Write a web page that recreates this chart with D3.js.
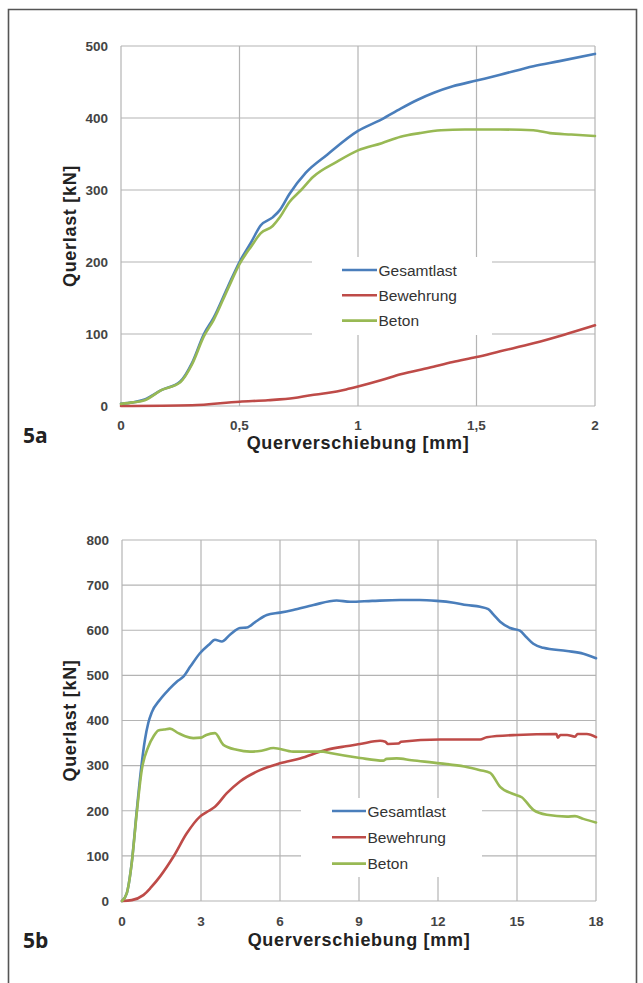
<!DOCTYPE html>
<html>
<head>
<meta charset="utf-8">
<script src="https://cdn.jsdelivr.net/npm/d3@7"></script>
<style>
  html, body { margin: 0; padding: 0; background: #fff; }
  svg { display: block; }
</style>
</head>
<body>
<svg id="chart" width="643" height="983"></svg>
<script>
// ---------- DATA ----------
const seriesNames = ["Gesamtlast", "Bewehrung", "Beton"];
const seriesColors = ["#4a7ebb", "#be4b48", "#98b954"];

// Chart 5a
const aXTicks = [0, 0.5, 1, 1.5, 2];
const aXTickLabels = ["0", "0,5", "1", "1,5", "2"];
const aYTicks = [0, 100, 200, 300, 400, 500];

const aGesamtX = [0, 0.05, 0.1, 0.17, 0.25, 0.3, 0.35, 0.39, 0.45, 0.5, 0.55, 0.59, 0.64, 0.67, 0.71, 0.78, 0.87, 1.0, 1.1, 1.18, 1.25, 1.32, 1.4, 1.5, 1.6, 1.74, 1.85, 2.0];
const aGesamtY = [3, 5, 9, 22, 34, 60, 100, 122, 165, 200, 228, 251, 262, 272, 294, 324, 349, 382, 398, 413, 425, 435, 444, 452, 460, 472, 479, 489];

const aBewehrungX = [0, 0.3, 0.5, 0.62, 0.73, 0.8, 0.87, 0.95, 1.0, 1.1, 1.18, 1.3, 1.4, 1.5, 1.6, 1.74, 1.87, 2.0];
const aBewehrungY = [0, 1, 6, 8, 11, 15, 18, 23, 27, 36, 44, 53, 61, 68, 76, 87, 99, 112];

const aBetonX = [0, 0.05, 0.1, 0.17, 0.25, 0.3, 0.35, 0.39, 0.45, 0.5, 0.55, 0.59, 0.64, 0.67, 0.71, 0.76, 0.81, 0.91, 1.0, 1.1, 1.18, 1.26, 1.35, 1.45, 1.6, 1.74, 1.81, 1.9, 2.0];
const aBetonY = [3, 5, 8, 22, 33, 58, 97, 119, 162, 197, 222, 240, 250, 262, 283, 300, 318, 339, 355, 365, 374, 379, 383, 384, 384, 383, 379, 377, 375];

// Chart 5b
const bXTicks = [0, 3, 6, 9, 12, 15, 18];
const bXTickLabels = ["0", "3", "6", "9", "12", "15", "18"];
const bYTicks = [0, 100, 200, 300, 400, 500, 600, 700, 800];

const bGesamtX = [0, 0.18, 0.37, 0.56, 0.7, 0.87, 1.0, 1.13, 1.44, 1.8, 2.08, 2.33, 2.6, 2.96, 3.3, 3.53, 3.79, 4.1, 4.48, 4.74, 5.1, 5.5, 6.0, 6.5, 7.27, 8.15, 8.66, 9.5, 10.56, 11.3, 11.95, 12.6, 13.09, 13.6, 13.91, 14.1, 14.36, 14.74, 15.11, 15.35, 15.62, 16.0, 16.9, 17.52, 18];
const bGesamtY = [0, 17, 85, 200, 280, 357, 395, 418, 446, 470, 486, 497, 520, 549, 568, 579, 575, 590, 605, 606, 620, 634, 639, 645, 656, 666, 663, 665, 667, 667, 665, 661, 656, 652, 647, 635, 619, 605, 599, 585, 570, 561, 554, 548, 538];

const bBewehrungX = [0, 0.37, 0.81, 1.1, 1.44, 1.95, 2.46, 2.96, 3.3, 3.53, 3.98, 4.48, 5.24, 6.0, 6.76, 7.77, 8.5, 9.04, 9.8, 10.0, 10.1, 10.5, 10.6, 12.08, 13.6, 13.85, 14.99, 16.5, 16.55, 16.65, 16.9, 17.2, 17.3, 17.65, 18];
const bBewehrungY = [0, 2, 13, 30, 54, 98, 150, 187, 200, 209, 239, 265, 290, 305, 316, 335, 343, 348, 355, 353, 348, 349, 353, 358, 358, 363, 368, 370, 362, 368, 368, 364, 370, 370, 363];

const bBetonX = [0, 0.18, 0.37, 0.56, 0.75, 1.0, 1.2, 1.38, 1.6, 1.82, 2.14, 2.4, 2.71, 3.0, 3.2, 3.53, 3.85, 4.36, 4.86, 5.3, 5.75, 6.5, 7.64, 7.9, 9.04, 9.92, 10.05, 10.43, 11.0, 12.08, 13.0, 13.6, 13.98, 14.36, 14.86, 15.18, 15.62, 16.13, 16.9, 17.2, 17.52, 18];
const bBetonY = [0, 17, 84, 195, 290, 342, 365, 378, 380, 382, 372, 365, 361, 362, 368, 372, 346, 335, 331, 333, 339, 331, 331, 328, 317, 311, 315, 316, 312, 305, 298, 290, 284, 253, 237, 230, 202, 191, 187, 188, 182, 174];

const xTitle = "Querverschiebung [mm]";
const yTitle = "Querlast [kN]";

// ---------- DRAW ----------
const svg = d3.select("#chart");
const FONT = "'Liberation Sans', Arial, sans-serif";

// outer frame
svg.append("path")
  .attr("d", "M8.5,990 L8.5,9.5 L636.5,9.5 L636.5,990")
  .attr("fill", "none").attr("stroke", "#555").attr("stroke-width", 1.6);

function drawChart(cfg) {
  const g = svg.append("g");
  const x = d3.scaleLinear().domain(cfg.xDomain).range([cfg.left, cfg.right]);
  const y = d3.scaleLinear().domain(cfg.yDomain).range([cfg.bottom, cfg.top]);

  // gridlines
  g.append("g").selectAll("line.h").data(cfg.yTicks).join("line")
    .attr("x1", cfg.left).attr("x2", cfg.right)
    .attr("y1", d => y(d)).attr("y2", d => y(d))
    .attr("stroke", "#b4b4b4").attr("stroke-width", 1.2);
  g.append("g").selectAll("line.v").data(cfg.xTicks).join("line")
    .attr("y1", cfg.top).attr("y2", cfg.bottom)
    .attr("x1", d => x(d)).attr("x2", d => x(d))
    .attr("stroke", "#b4b4b4").attr("stroke-width", 1.2);

  // y tick labels
  g.append("g").selectAll("text").data(cfg.yTicks).join("text")
    .attr("x", cfg.left - 13).attr("y", d => y(d)).attr("dy", "0.36em")
    .attr("text-anchor", "end")
    .attr("font-family", FONT).attr("font-size", 13.5).attr("font-weight", "bold")
    .attr("fill", "#444").text(d => d);

  // x tick labels
  g.append("g").selectAll("text").data(cfg.xTicks).join("text")
    .attr("x", d => x(d)).attr("y", cfg.xTickY)
    .attr("text-anchor", "middle")
    .attr("font-family", FONT).attr("font-size", 13.5).attr("font-weight", "bold")
    .attr("fill", "#444").text((d, i) => cfg.xTickLabels[i]);

  // axis titles
  g.append("text")
    .attr("x", (cfg.left + cfg.right) / 2).attr("y", cfg.xTitleY)
    .attr("text-anchor", "middle")
    .attr("font-family", FONT).attr("font-size", 18).attr("font-weight", "bold")
    .attr("letter-spacing", "0.7px")
    .attr("fill", "#222").text(xTitle);
  g.append("text")
    .attr("transform", `translate(${cfg.yTitleX},${(cfg.top + cfg.bottom) / 2}) rotate(-90)`)
    .attr("text-anchor", "middle")
    .attr("font-family", FONT).attr("font-size", 18).attr("font-weight", "bold")
    .attr("letter-spacing", "0.7px")
    .attr("fill", "#222").text(yTitle);

  // series lines
  const line = d3.line().x(d => x(d[0])).y(d => y(d[1])).curve(d3.curveMonotoneX);
  cfg.series.forEach((s, i) => {
    const pts = s.xs.map((v, k) => [v, s.ys[k]]);
    g.append("path").datum(pts)
      .attr("d", line)
      .attr("fill", "none")
      .attr("stroke", seriesColors[i])
      .attr("stroke-width", 2.6)
      .attr("stroke-linejoin", "round")
      .attr("stroke-linecap", "round");
  });

  // legend
  const lg = cfg.legend;
  g.append("rect")
    .attr("x", lg.boxX).attr("y", lg.boxY).attr("width", lg.boxW).attr("height", lg.boxH)
    .attr("fill", "#fff");
  seriesNames.forEach((name, i) => {
    const yy = lg.y0 + i * lg.dy;
    g.append("line")
      .attr("x1", lg.lineX1).attr("x2", lg.lineX2).attr("y1", yy).attr("y2", yy)
      .attr("stroke", seriesColors[i]).attr("stroke-width", 2.6);
    g.append("text")
      .attr("x", lg.lineX2 + 1.5).attr("y", yy).attr("dy", "0.36em")
      .attr("font-family", FONT).attr("font-size", 15.5)
      .attr("fill", "#333").text(name);
  });

  // panel label
  svg.append("text")
    .attr("x", 23).attr("y", cfg.panelY)
    .attr("font-family", "'Open Sans', sans-serif").attr("font-size", 21).attr("font-weight", 700)
    .attr("fill", "#222").text(cfg.panel);
}

drawChart({
  xDomain: [0, 2], yDomain: [0, 500],
  left: 121, right: 595, top: 46, bottom: 406,
  xTicks: aXTicks, xTickLabels: aXTickLabels, yTicks: aYTicks,
  xTickY: 429.5, xTitleY: 449, yTitleX: 76,
  series: [
    { xs: aGesamtX, ys: aGesamtY },
    { xs: aBewehrungX, ys: aBewehrungY },
    { xs: aBetonX, ys: aBetonY }
  ],
  legend: { boxX: 312, boxY: 257, boxW: 180, boxH: 78, lineX1: 342, lineX2: 377, y0: 270, dy: 25.3 },
  panel: "5a", panelY: 443
});

drawChart({
  xDomain: [0, 18], yDomain: [0, 800],
  left: 122, right: 596, top: 540, bottom: 901,
  xTicks: bXTicks, xTickLabels: bXTickLabels, yTicks: bYTicks,
  xTickY: 925.5, xTitleY: 946, yTitleX: 76,
  series: [
    { xs: bGesamtX, ys: bGesamtY },
    { xs: bBewehrungX, ys: bBewehrungY },
    { xs: bBetonX, ys: bBetonY }
  ],
  legend: { boxX: 301, boxY: 798, boxW: 181, boxH: 79, lineX1: 332, lineX2: 366, y0: 811, dy: 26.3 },
  panel: "5b", panelY: 948
});
</script>
</body>
</html>
